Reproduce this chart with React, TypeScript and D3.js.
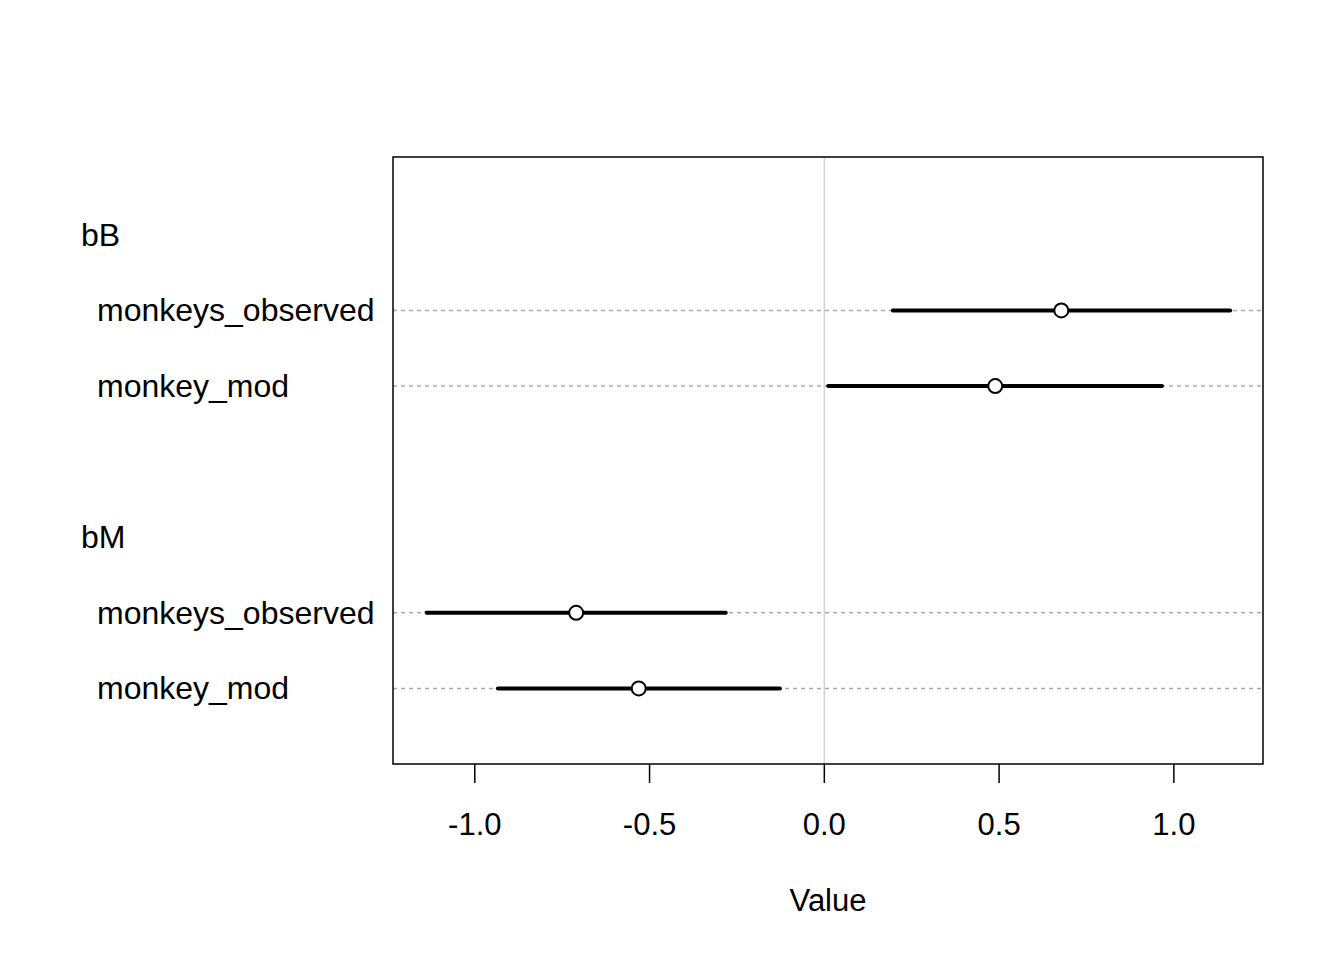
import { useEffect, useRef } from 'react';
import * as d3 from 'd3';

// precis-style dot chart: two coefficients, two models each
const groups = ['bB', 'bM'];
const models = ['monkeys_observed', 'monkey_mod'];
const means = [0.678, 0.489, -0.710, -0.531];
const lower = [0.196, 0.011, -1.138, -0.934];
const upper = [1.161, 0.966, -0.282, -0.127];
const xTicks = [-1.0, -0.5, 0.0, 0.5, 1.0];

const W = 1344;
const H = 960;
const FONT = '"Liberation Sans", Arial, Helvetica, sans-serif';

export default function App() {
    const svgRef = useRef<SVGSVGElement>(null);

    useEffect(() => {
        if (!svgRef.current) return;
        const root = d3.select(svgRef.current);
        root.selectAll('*').remove();

        const left = 393, right = 1263, top = 157, bottom = 764;

        const x = d3.scaleLinear().domain([-1.234, 1.255]).range([left, right]);
        const y = d3.scaleLinear().domain([0, 8.03]).range([bottom, top]);

        // build row layout: group label, then models, blank spacer between groups
        type Row = { label: string; pos: number; group: boolean; idx: number };
        const rows: Row[] = [];
        let pos = groups.length * (models.length + 1) + (groups.length - 1);
        let k = 0;
        groups.forEach((g, gi) => {
            rows.push({ label: g, pos: pos--, group: true, idx: -1 });
            models.forEach(m => {
                rows.push({ label: m, pos: pos--, group: false, idx: k++ });
            });
            if (gi < groups.length - 1) pos--;
        });
        const dataRows = rows.filter(r => !r.group);

        // zero line
        root.append('line')
            .attr('x1', x(0)).attr('x2', x(0))
            .attr('y1', top).attr('y2', bottom)
            .attr('stroke', '#d3d3d3')
            .attr('stroke-width', 1.5);

        // dashed row guides
        root.selectAll('line.guide')
            .data(dataRows)
            .enter()
            .append('line')
            .attr('class', 'guide')
            .attr('x1', left).attr('x2', right)
            .attr('y1', d => y(d.pos)).attr('y2', d => y(d.pos))
            .attr('stroke', '#aaaaaa')
            .attr('stroke-width', 1.5)
            .attr('stroke-dasharray', '4,4');

        // intervals
        root.selectAll('line.ci')
            .data(dataRows)
            .enter()
            .append('line')
            .attr('class', 'ci')
            .attr('x1', d => x(lower[d.idx])).attr('x2', d => x(upper[d.idx]))
            .attr('y1', d => y(d.pos)).attr('y2', d => y(d.pos))
            .attr('stroke', '#000')
            .attr('stroke-width', 4)
            .attr('stroke-linecap', 'round');

        // means
        root.selectAll('circle')
            .data(dataRows)
            .enter()
            .append('circle')
            .attr('cx', d => x(means[d.idx]))
            .attr('cy', d => y(d.pos))
            .attr('r', 7)
            .attr('fill', '#fff')
            .attr('stroke', '#000')
            .attr('stroke-width', 2);

        // box
        root.append('rect')
            .attr('x', left).attr('y', top)
            .attr('width', right - left).attr('height', bottom - top)
            .attr('fill', 'none')
            .attr('stroke', '#000')
            .attr('stroke-width', 1.5);

        // x axis
        const ax = root.append('g');
        ax.selectAll('line')
            .data(xTicks)
            .enter()
            .append('line')
            .attr('x1', d => x(d)).attr('x2', d => x(d))
            .attr('y1', bottom).attr('y2', bottom + 19)
            .attr('stroke', '#000')
            .attr('stroke-width', 1.5);
        ax.selectAll('text')
            .data(xTicks)
            .enter()
            .append('text')
            .attr('x', d => x(d))
            .attr('y', 835)
            .attr('text-anchor', 'middle')
            .style('font-family', FONT)
            .style('font-size', '31px')
            .text(d => d3.format('.1f')(d).replace('−', '-'));

        root.append('text')
            .attr('x', (left + right) / 2)
            .attr('y', 911)
            .attr('text-anchor', 'middle')
            .style('font-family', FONT)
            .style('font-size', '31px')
            .text('Value');

        // row labels
        root.selectAll('text.row')
            .data(rows)
            .enter()
            .append('text')
            .attr('class', 'row')
            .attr('x', d => (d.group ? 81 : 97))
            .attr('y', d => y(d.pos) + 11)
            .style('font-family', FONT)
            .style('font-size', '32px')
            .text(d => d.label);
    }, []);

    return (
        <svg
            ref={svgRef}
            width={W}
            height={H}
            style={{ position: 'absolute', left: 0, top: 0, background: '#fff' }}
        />
    );
}
